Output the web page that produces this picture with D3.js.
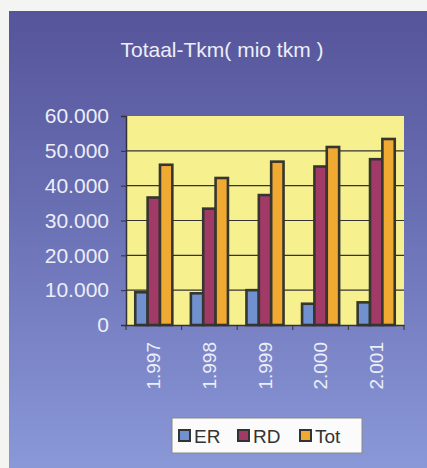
<!DOCTYPE html>
<html>
  <head>
    <meta charset="utf-8">
    <title>Totaal-Tkm</title>
    <script src="https://d3js.org/d3.v7.min.js"></script>
    <style>
      body { margin: 0; background: #f4f4f2; }
      svg { display: block; font-family: "Liberation Sans", Arial, sans-serif; }
      .yAxis text, .xAxis text { fill: #eceef8; }
    </style>
  </head>
  <body>
    <svg id="chart" width="427" height="468">
      <defs>
        <linearGradient id="bg" x1="0%" x2="0%" y1="0%" y2="100%">
          <stop offset="0%" stop-color="#56549a"></stop>
          <stop offset="45%" stop-color="#6a70b4"></stop>
          <stop offset="100%" stop-color="#8a98d8"></stop>
        </linearGradient>
      </defs>
    </svg>
    <script>
      // data
      years = ["1.997", "1.998", "1.999", "2.000", "2.001"];
      seriesNames = ["ER", "RD", "Tot"];
      er = [9400, 9100, 10000, 6100, 6500];
      rd = [36600, 33400, 37300, 45500, 47600];
      tot = [46000, 42200, 46900, 51100, 53400];
      yTicks = [0, 10000, 20000, 30000, 40000, 50000, 60000];
      colours = ["#7090d0", "#a23a68", "#f0aa32"];

      series = [er, rd, tot];
      svg = d3.select("#chart");
      // backdrop
      svg.append("rect")
        .attr("x", 9)
        .attr("y", 11)
        .attr("width", 418)
        .attr("height", 457)
        .attr("fill", "url(#bg)");
      svg.append("text")
        .attr("x", 222)
        .attr("y", 57)
        .attr("text-anchor", "middle")
        .attr("font-size", 21)
        .attr("fill", "#eceef8")
        .text("Totaal-Tkm( mio tkm )");
      // plot area
      margin = { left: 126, top: 116, right: 404, bottom: 325 };
      x = d3.scaleBand()
        .domain(years)
        .range([margin.left, margin.right]);
      x1 = d3.scaleBand()
        .domain(seriesNames)
        .range([0, x.bandwidth()])
        .paddingInner(0)
        .paddingOuter(0.75);
      y = d3.scaleLinear()
        .domain([0, 60000])
        .range([margin.bottom, margin.top]);
      svg.append("rect")
        .attr("x", margin.left)
        .attr("y", margin.top)
        .attr("width", margin.right - margin.left)
        .attr("height", margin.bottom - margin.top)
        .attr("fill", "#f6f08e");
      svg.append("g")
        .selectAll("line")
          .data(yTicks.slice(1, -1))
        .enter().append("line")
          .attr("x1", margin.left)
          .attr("x2", margin.right)
          .attr("y1", function(d) { return y(d); })
          .attr("y2", function(d) { return y(d); })
          .attr("stroke", "#333")
          .attr("stroke-width", 1.2);
      // bars
      groups = svg.append("g")
        .selectAll("g")
          .data(years)
        .enter().append("g")
          .attr("transform", function(d) { return "translate(" + x(d) + ",0)"; });
      groups.selectAll("rect")
        .data(function(d, i) { return series.map(function(s, j) { return { name: seriesNames[j], value: s[i], c: colours[j] }; }); })
        .enter().append("rect")
          .attr("x", function(d) { return x1(d.name); })
          .attr("y", function(d) { return y(d.value); })
          .attr("width", x1.bandwidth())
          .attr("height", function(d) { return y(0) - y(d.value); })
          .attr("fill", function(d) { return d.c; })
          .attr("stroke", "#363630")
          .attr("stroke-width", 2.6);
      // axes
      yAxis = svg.append("g")
        .attr("class", "yAxis")
        .attr("transform", "translate(" + margin.left + ",0)")
        .call(d3.axisLeft(y)
          .tickValues(yTicks)
          .tickSize(5)
          .tickPadding(12)
          .tickFormat(function(d) { return d3.format(",")(d).replace(/,/g, "."); }));
      yAxis.selectAll("text").attr("font-size", 21).attr("font-family", null);
      xAxis = svg.append("g")
        .attr("class", "xAxis")
        .attr("transform", "translate(0," + margin.bottom + ")")
        .call(d3.axisBottom(x).tickSize(0).tickPadding(0));
      xAxis.selectAll(".tick text")
        .attr("font-size", 19)
        .attr("font-family", null)
        .attr("text-anchor", "end")
        .attr("transform", "rotate(-90)")
        .attr("x", -17)
        .attr("y", 0)
        .attr("dy", "0.35em");
      // category separators below the axis
      xAxis.selectAll(".sep")
        .data(years.concat(["end"]))
        .enter().append("line")
          .attr("x1", function(d, i) { return margin.left + i * x.bandwidth(); })
          .attr("x2", function(d, i) { return margin.left + i * x.bandwidth(); })
          .attr("y1", 0)
          .attr("y2", 5)
          .attr("stroke", "#333");
      svg.selectAll(".domain").attr("stroke", "#333").attr("stroke-width", 1.5);
      svg.selectAll(".yAxis .tick line").attr("stroke", "#333");
      // legend
      legend = svg.append("g")
        .attr("transform", "translate(172,418)");
      legend.append("rect")
        .attr("width", 190)
        .attr("height", 35)
        .attr("fill", "#fbfbfb")
        .attr("stroke", "#888");
      items = legend.selectAll(".item")
        .data(seriesNames)
        .enter().append("g")
          .attr("transform", function(d, i) { return "translate(" + [7, 66, 128][i] + ",12)"; });
      items.append("rect")
        .attr("width", 11)
        .attr("height", 11)
        .attr("fill", function(d, i) { return colours[i]; })
        .attr("stroke", "#333")
        .attr("stroke-width", 2);
      items.append("text")
        .attr("x", 15)
        .attr("y", 12.5)
        .attr("font-size", 19)
        .attr("fill", "#333")
        .text(function(d) { return d; });
    </script>
  </body>
</html>
